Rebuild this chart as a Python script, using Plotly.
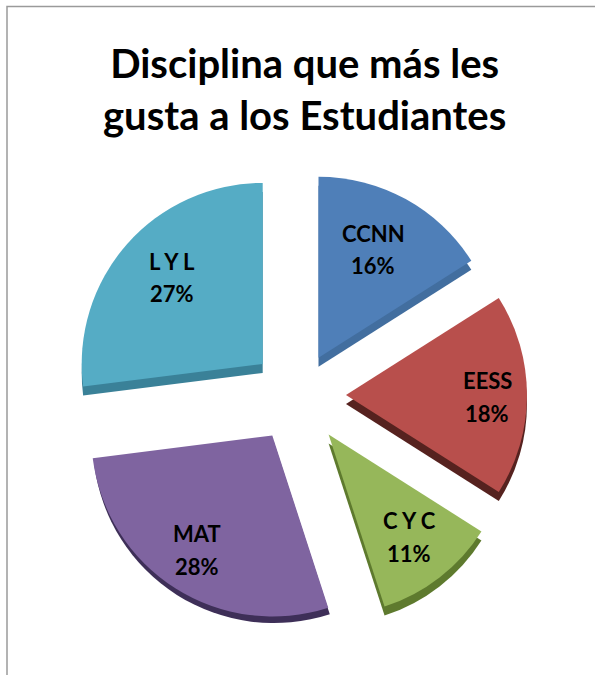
import plotly.graph_objects as go

categories = ["CCNN", "EESS", "C Y C", "MAT", "L Y L"]
values = [16, 18, 11, 28, 27]

W, H = 595, 675
top_colors = ["#4F7FB8", "#B84F4C", "#96B75A", "#7F64A0", "#55ACC5"]
wall_colors = ["#426E9F", "#56221F", "#5E7A2E", "#3E2F58", "#3A8198"]
top_pull = [0.235, 0.265, 0.276, 0.265, 0.26]
wall_pull = [0.235, 0.265, 0.276, 0.249, 0.26]
R = 181
CX, CY = 298, 395
WALL = 9
label_xy = [(373, 233), (487, 380), (409, 520), (197, 533), (172, 261)]
LINE_GAP = 33
FONT = "Lato, Carlito, sans-serif"


def domain(cx, cy):
    half = R * (1 + max(top_pull))
    return dict(x=[(cx - half) / W, (cx + half) / W],
                y=[1 - (cy + half) / H, 1 - (cy - half) / H])


def pie(colors, pull, cy):
    return go.Pie(labels=categories, values=values, sort=False, direction="clockwise",
                  rotation=0, pull=pull, textinfo="none", hoverinfo="label+percent",
                  marker=dict(colors=colors, line=dict(width=0)), domain=domain(CX, cy),
                  showlegend=False)


def note(text, px, py, size):
    return dict(text=f"<b>{text}</b>", x=px / W, y=1 - py / H, xref="paper", yref="paper",
                showarrow=False, xanchor="center", yanchor="middle",
                font=dict(family=FONT, size=size, color="#000000"))


fig = go.Figure([pie(wall_colors, wall_pull, CY + WALL), pie(top_colors, top_pull, CY)])

annotations = [note("Disciplina que más les<br>gusta a los Estudiantes", 304.5, 89, 40)]
total = sum(values)
for name, val, (lx, ly) in zip(categories, values, label_xy):
    annotations.append(note(name, lx, ly, 22))
    annotations.append(note(f"{round(val / total * 100)}%", lx, ly + LINE_GAP, 22))

fig.update_layout(
    width=W, height=H, margin=dict(l=0, r=0, t=0, b=0), paper_bgcolor="#FFFFFF",
    annotations=annotations,
    shapes=[dict(type="rect", xref="paper", yref="paper", x0=7 / W, x1=1.05, y0=-0.05, y1=1 - 6.5 / H,
                 line=dict(color="#9A9A9A", width=1.5))],
)
fig.write_html("out.html", config={"displayModeBar": False},
               post_script="document.body.style.margin='0';")
